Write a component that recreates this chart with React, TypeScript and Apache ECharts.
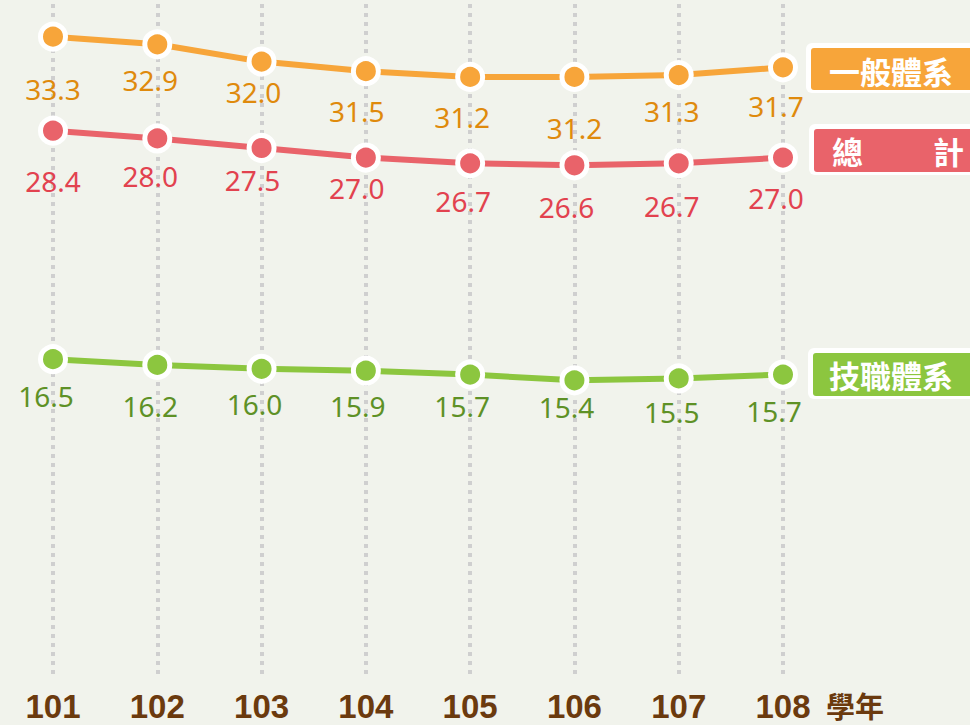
import React, { useEffect, useRef } from "react";
import * as echarts from "echarts";

const categories = ["101", "102", "103", "104", "105", "106", "107", "108"];
const generalValues = [33.3, 32.9, 32.0, 31.5, 31.2, 31.2, 31.3, 31.7];
const totalValues = [28.4, 28.0, 27.5, 27.0, 26.7, 26.6, 26.7, 27.0];
const vocationalValues = [16.5, 16.2, 16.0, 15.9, 15.7, 15.4, 15.5, 15.7];
const xUnitLabel = "學年";
const seriesNames = ["一般體系", "總計", "技職體系"];

// label placement (style only)
const generalOffsets = [[0, 53], [-7, 37], [-8, 31], [-9, 41], [-8, 41], [0, 52], [-7, 37], [-7, 40]];
const totalOffsets = [[0, 51], [-7, 39], [-9, 33], [-9, 31], [-7, 39], [-8, 43], [-7, 44], [-7, 41]];
const vocationalOffsets = [[-7, 38], [-7, 42], [-7, 36], [-8, 36], [-8, 32], [-8, 28], [-7, 35], [-9, 37]];

const COLORS = {
  orange: "#f7a53a",
  orangeText: "#df8a0c",
  red: "#e9636a",
  redText: "#e2424f",
  green: "#8cc63f",
  greenText: "#5e9126",
  brown: "#6b3a0e",
};

function makeSeries(name: string, values: number[], offsets: number[][], color: string, textColor: string) {
  return {
    name,
    type: "line",
    data: values.map((v, i) => ({
      value: v,
      label: { offset: [offsets[i][0], offsets[i][1] - 1] },
    })),
    lineStyle: { color, width: 6 },
    itemStyle: { color, borderColor: "#ffffff", borderWidth: 5 },
    symbol: "circle",
    symbolSize: 25,
    showSymbol: true,
    label: {
      show: true,
      position: "inside",
      color: textColor,
      fontSize: 28,
      fontFamily: "'Noto Sans', 'Open Sans', sans-serif",
      formatter: (p: any) => Number(p.value).toFixed(1),
    },
    z: 3,
  };
}

function legendBox(x: number, y: number, h: number, color: string, texts: any[]) {
  return {
    type: "group",
    children: [
      { type: "rect", shape: { x, y, width: 220, height: h + 8, r: 6 }, style: { fill: "#ffffff" } },
      { type: "rect", shape: { x: x + 5, y: y + 5, width: 220, height: h, r: 3 }, style: { fill: color } },
      ...texts,
    ],
  };
}

function legendText(text: string, x: number, y: number) {
  return {
    type: "text",
    x,
    y,
    style: {
      text,
      fill: "#ffffff",
      fontSize: 31,
      fontWeight: "bold",
      fontFamily: "'Noto Sans CJK TC', 'Noto Sans CJK SC', sans-serif",
      verticalAlign: "middle",
      align: "left",
    },
  };
}

export default function App() {
  const ref = useRef<HTMLDivElement>(null);
  useEffect(() => {
    document.body.style.margin = "0";
    const chart = echarts.init(ref.current!, null, { renderer: "svg" });
    chart.setOption({
      animation: false,
      backgroundColor: "#f1f3ec",
      grid: { left: 53, right: 187, top: 4, bottom: 49 },
      xAxis: {
        type: "category",
        data: categories,
        boundaryGap: false,
        axisLine: { show: false },
        axisTick: { show: false },
        axisLabel: {
          color: COLORS.brown,
          fontSize: 33,
          fontWeight: "bold",
          fontFamily: "'Liberation Sans', Arial, sans-serif",
          margin: 14,
          lineHeight: 33,
        },
        splitLine: {
          show: true,
          interval: 0,
          lineStyle: { color: "#cfcfcf", width: 4, type: [4, 5] },
        },
      },
      yAxis: {
        type: "value",
        min: 0,
        max: 35,
        show: false,
        splitLine: { show: false },
      },
      series: [
        makeSeries(seriesNames[0], generalValues, generalOffsets, COLORS.orange, COLORS.orangeText),
        makeSeries(seriesNames[1], totalValues, totalOffsets, COLORS.red, COLORS.redText),
        makeSeries(seriesNames[2], vocationalValues, vocationalOffsets, COLORS.green, COLORS.greenText),
      ],
      graphic: [
        {
          type: "text",
          x: 826,
          y: 705,
          style: {
            text: xUnitLabel,
            fill: COLORS.brown,
            fontSize: 29,
            fontWeight: "bold",
            fontFamily: "'Noto Sans CJK TC', sans-serif",
            verticalAlign: "middle",
          },
        },
        legendBox(806, 43, 42, COLORS.orange, [legendText(seriesNames[0], 829, 70)]),
        legendBox(809, 124, 43, COLORS.red, [
          legendText(seriesNames[1].charAt(0), 832, 150),
          legendText(seriesNames[1].charAt(1), 933, 150),
        ]),
        legendBox(808, 348, 43, COLORS.green, [legendText(seriesNames[2], 829, 374)]),
      ],
    });
    return () => chart.dispose();
  }, []);
  return <div ref={ref} style={{ width: 970, height: 725 }} />;
}
